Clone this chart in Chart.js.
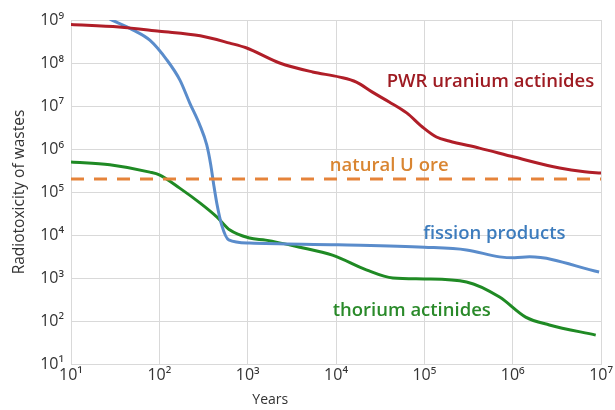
<!DOCTYPE html>
<html>
<head>
<meta charset="utf-8">
<script src="https://cdn.jsdelivr.net/npm/chart.js@4"></script>
<style>
html,body{margin:0;padding:0;background:#fff;}
#wrap{width:615px;height:410px;position:relative;}
</style>
</head>
<body>
<div id="wrap"><canvas id="c" width="615" height="410"></canvas></div>
<script>
// Years (x) and radiotoxicity (y) for each curve
const pwrYears = [10, 35, 100, 290, 627, 975, 2300, 5420, 1.1e4, 1.7e4, 2.58e4, 4.0e4, 6.3e4, 9.5e4, 1.37e5, 1.9e5, 4.2e5, 1.04e6, 3.4e6, 6.5e6, 1e7];
const pwrValues = [7.9e8, 6.9e8, 5.5e8, 4.3e8, 2.9e8, 2.23e8, 1.0e8, 6.2e7, 4.7e7, 3.6e7, 2.1e7, 1.24e7, 6.9e6, 3.25e6, 1.9e6, 1.53e6, 1.05e6, 6.5e5, 3.6e5, 2.95e5, 2.75e5];

const fissionYears = [27.5, 50, 78, 122, 171, 221, 287, 344, 382, 413, 447, 508, 610, 1050, 1.05e4, 1.0e5, 3.0e5, 7.1e5, 1.05e6, 1.55e6, 9.5e6];
const fissionValues = [1.05e9, 5.9e8, 3.4e8, 1.17e8, 4.0e7, 1.17e7, 3.6e6, 1.24e6, 4.25e5, 1.46e5, 5.5e4, 1.7e4, 7.7e3, 6.5e3, 5.9e3, 5.2e3, 4.5e3, 3.1e3, 2.95e3, 3.1e3, 1.38e3];

const thoriumYears = [10, 27.5, 78, 100, 170, 290, 450, 630, 1050, 1600, 3900, 9100, 2.2e4, 4.4e4, 1.0e5, 3.0e5, 7.1e5, 1.4e6, 2.6e6, 8.7e6];
const thoriumValues = [5.0e5, 4.3e5, 2.9e5, 2.5e5, 1.23e5, 5.5e4, 2.6e4, 1.3e4, 8.5e3, 7.6e3, 5.2e3, 3.4e3, 1.55e3, 1.0e3, 9.5e2, 8.1e2, 3.6e2, 1.23e2, 81, 47];

const oreYears = [10, 1e7];
const oreValues = [2e5, 2e5];

const xTicks = [10, 100, 1e3, 1e4, 1e5, 1e6, 1e7];
const yTicks = [10, 100, 1e3, 1e4, 1e5, 1e6, 1e7, 1e8, 1e9];
const tickLabels = {10:'10¹',100:'10²',1000:'10³',10000:'10⁴',100000:'10⁵',1000000:'10⁶',10000000:'10⁷',100000000:'10⁸',1000000000:'10⁹'};

const seriesLabels = [
  {text:'PWR uranium actinides', x:5.6e5, y:3.6e7, color:'#9e1b22'},
  {text:'natural U ore', x:4.0e4, y:4.0e5, color:'#d98531'},
  {text:'fission products', x:6.2e5, y:1.05e4, color:'#3d7cbd'},
  {text:'thorium actinides', x:7.2e4, y:1.7e2, color:'#2a8a2a'}
];
const xTitle = 'Years';
const yTitle = 'Radiotoxicity of wastes';

const toPts = (xs, ys) => xs.map((x,i)=>({x:x, y:ys[i]}));

const labelPlugin = {
  id:'seriesLabels',
  afterDatasetsDraw(chart){
    const {ctx, scales:{x, y}} = chart;
    ctx.save();
    ctx.font = '600 18.5px "Open Sans", sans-serif';
    ctx.textAlign = 'center';
    ctx.textBaseline = 'middle';
    seriesLabels.forEach(l=>{
      ctx.fillStyle = l.color;
      ctx.fillText(l.text, x.getPixelForValue(l.x), y.getPixelForValue(l.y));
    });
    // x-axis title (sits left of centre in the original)
    ctx.font = '14px "Open Sans", sans-serif';
    ctx.fillStyle = '#333';
    ctx.fillText(xTitle, x.getPixelForValue(1800), 400);
    ctx.restore();
  }
};

new Chart(document.getElementById('c'), {
  type:'line',
  data:{
    datasets:[
      {data:toPts(oreYears, oreValues), borderColor:'#e5833a', borderWidth:3, borderDash:[13,10], pointRadius:0, fill:false},
      {data:toPts(pwrYears, pwrValues), borderColor:'#b01e28', borderWidth:3, pointRadius:0, cubicInterpolationMode:'monotone', fill:false},
      {data:toPts(fissionYears, fissionValues), borderColor:'#5a8ccb', borderWidth:3, pointRadius:0, cubicInterpolationMode:'monotone', fill:false},
      {data:toPts(thoriumYears, thoriumValues), borderColor:'#1f8a24', borderWidth:3, pointRadius:0, cubicInterpolationMode:'monotone', fill:false}
    ]
  },
  options:{
    responsive:false,
    animation:false,
    layout:{padding:{left:0, right:13, top:20, bottom:0}},
    plugins:{legend:{display:false}, tooltip:{enabled:false}},
    scales:{
      x:{
        type:'logarithmic', min:10, max:1e7,
        afterBuildTicks(s){ s.ticks = xTicks.map(v=>({value:v})); },
        afterFit(s){ s.height = 46; },
        grid:{color:'#d9d9d9', drawTicks:false},
        border:{color:'#d9d9d9'},
        ticks:{color:'#333', font:{family:'"Open Sans", sans-serif', size:16}, padding:2, maxRotation:0, autoSkip:false,
               callback:(v)=>tickLabels[v]}
      },
      y:{
        type:'logarithmic', min:10, max:1e9,
        afterBuildTicks(s){ s.ticks = yTicks.map(v=>({value:v})); },
        afterFit(s){ s.width = 71; },
        grid:{color:'#d9d9d9', drawTicks:false},
        border:{color:'#d9d9d9'},
        ticks:{color:'#333', font:{family:'"Open Sans", sans-serif', size:16}, padding:7, autoSkip:false,
               callback:(v)=>tickLabels[v]},
        title:{display:true, text:yTitle, color:'#333', font:{family:'"Open Sans", sans-serif', size:15.5}, padding:{top:10,bottom:0}}
      }
    }
  },
  plugins:[labelPlugin]
});
</script>
</body>
</html>
